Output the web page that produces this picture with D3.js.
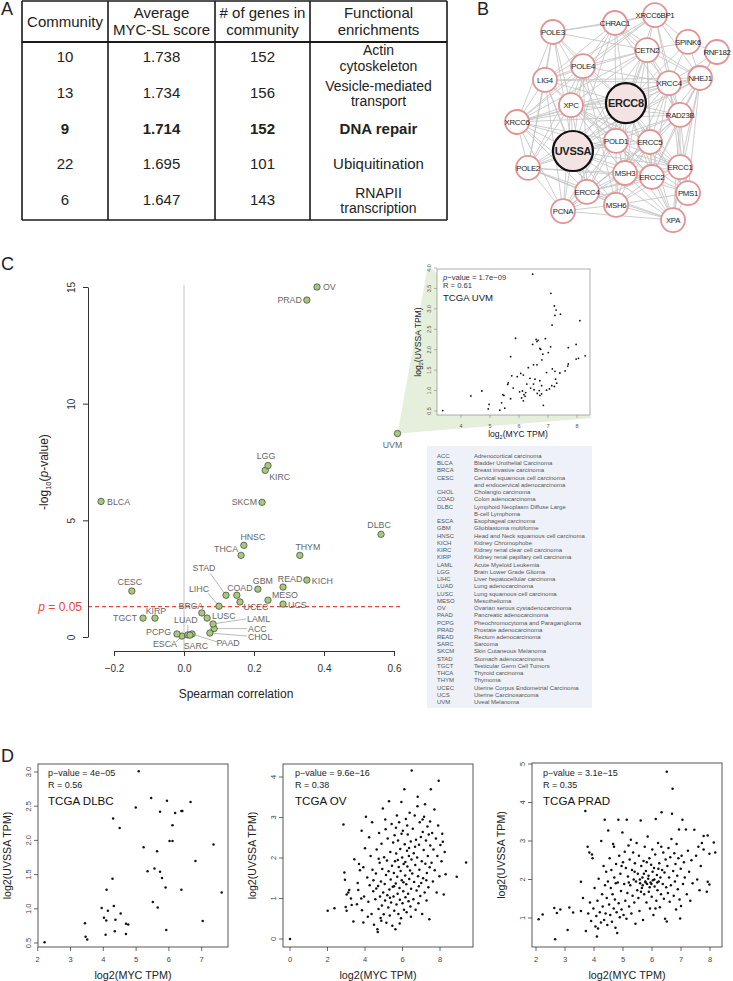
<!DOCTYPE html>
<html><head><meta charset="utf-8">
<script src="https://cdn.jsdelivr.net/npm/d3@7"></script>
<style>
body{margin:0;background:#fff}
svg{display:block;font-family:"Liberation Sans",Arial,Helvetica,sans-serif}
</style></head>
<body><svg id="fig" width="733" height="981"></svg>
<script>
// ---------------- DATA ----------------
// Panel A
const tableHeader = [["Community"],["Average","MYC-SL score"],["# of genes in","community"],["Functional","enrichments"]];
const communities = ["10","13","9","22","6"];
const avgScore = [1.738,1.734,1.714,1.695,1.647];
const geneCount = [152,156,152,101,143];
const enrichments = [["Actin","cytoskeleton"],["Vesicle-mediated","transport"],["DNA repair"],["Ubiquitination"],["RNAPII","transcription"]];
const highlightCommunity = "9";

// Panel B
const networkNodes = ["POLE3","CHRAC1","XRCC6BP1","SPINK6","RNF182","CETN2","POLE4","LIG4","XRCC4","NHEJ1","ERCC8","XPC","RAD23B","XRCC6","UVSSA","POLD1","ERCC5","ERCC1","POLE2","MSH3","ERCC2","PMS1","ERCC4","MSH6","PCNA","XPA"];
const hubNodes = ["ERCC8","UVSSA"];
const networkEdges = [
 "ERCC8:POLE3,CHRAC1,XRCC6BP1,CETN2,POLE4,LIG4,XRCC4,NHEJ1,XPC,RAD23B,XRCC6,UVSSA,POLD1,ERCC5,ERCC1,POLE2,MSH3,ERCC2,PMS1,ERCC4,MSH6,PCNA,XPA,SPINK6",
 "UVSSA:POLE3,CHRAC1,POLE4,LIG4,XRCC4,XPC,RAD23B,XRCC6,POLD1,ERCC5,ERCC1,POLE2,MSH3,ERCC2,ERCC4,MSH6,PCNA,XPA,CETN2,NHEJ1",
 "POLE3:CHRAC1,POLE4,LIG4,XRCC6,XPC,POLE2,XRCC6BP1,CETN2,POLD1",
 "CHRAC1:XRCC6BP1,CETN2,POLE4,XRCC4,LIG4,XPC,POLD1,NHEJ1,RAD23B",
 "XRCC6BP1:SPINK6,CETN2,XRCC4,NHEJ1,RAD23B,XRCC6,LIG4,POLE4",
 "SPINK6:RNF182,NHEJ1,XRCC4,CETN2",
 "RNF182:NHEJ1,XRCC4,RAD23B",
 "CETN2:XRCC4,NHEJ1,POLE4,XPC,RAD23B,POLD1,ERCC5,ERCC2,LIG4,XRCC6,MSH3",
 "POLE4:LIG4,XPC,XRCC6,POLD1,POLE2,ERCC4,XRCC4,MSH6",
 "LIG4:XPC,XRCC6,POLE2,XRCC4,POLD1,PCNA,ERCC4,NHEJ1",
 "XRCC4:NHEJ1,RAD23B,POLD1,ERCC5,ERCC1,XPC,ERCC2,XRCC6,MSH3,PMS1",
 "NHEJ1:RAD23B,ERCC1,ERCC5,XRCC6,POLE2,PMS1,ERCC2,XPA",
 "XPC:XRCC6,RAD23B,POLD1,ERCC5,POLE2,ERCC4,MSH3,ERCC1,PCNA,ERCC2",
 "RAD23B:ERCC5,ERCC1,ERCC2,POLD1,MSH3,PMS1,XPA,ERCC4,XRCC6",
 "XRCC6:POLE2,POLD1,ERCC4,PCNA,MSH6,ERCC1",
 "POLD1:ERCC5,MSH3,ERCC2,ERCC4,MSH6,PCNA,ERCC1,POLE2,XPA,PMS1",
 "ERCC5:ERCC1,ERCC2,MSH3,PMS1,XPA,ERCC4,MSH6,PCNA",
 "ERCC1:ERCC2,PMS1,XPA,MSH3,ERCC4,MSH6",
 "POLE2:ERCC4,PCNA,MSH6,MSH3,ERCC2,XPA",
 "MSH3:ERCC2,ERCC4,MSH6,PMS1,XPA,PCNA",
 "ERCC2:PMS1,XPA,MSH6,ERCC4,PCNA",
 "PMS1:XPA,MSH6",
 "ERCC4:MSH6,PCNA,XPA",
 "MSH6:PCNA,XPA",
 "PCNA:XPA"
];

// Panel C volcano
const cancers = ["ACC","BLCA","BRCA","CESC","CHOL","COAD","DLBC","ESCA","GBM","HNSC","KICH","KIRC","KIRP","LAML","LGG","LIHC","LUAD","LUSC","MESO","OV","PAAD","PCPG","PRAD","READ","SARC","SKCM","STAD","TGCT","THCA","THYM","UCEC","UCS","UVM"];
const spearmanRho = [0.086,-0.237,0.051,-0.149,0.074,0.151,0.563,-0.006,0.211,0.171,0.351,0.232,-0.083,0.083,0.240,0.100,0.011,0.066,0.240,0.380,0.023,-0.020,0.351,0.283,0.017,0.223,0.120,-0.117,0.163,0.331,0.160,0.283,0.610];
const negLog10P = [0.36,5.81,1.03,1.97,0.17,1.79,4.40,0.04,2.05,3.93,2.44,7.14,0.81,0.56,7.35,1.32,0.09,0.81,1.58,15.0,0.13,0.13,14.44,2.14,0.08,5.77,1.79,0.81,3.50,3.50,1.50,1.41,8.72];
const cancerNames = ["Adrenocortical carcinoma","Bladder Urothelial Carcinoma","Breast invasive carcinoma","Cervical squamous cell carcinoma\nand endocervical adenocarcinoma","Cholangio carcinoma","Colon adenocarcinoma","Lymphoid Neoplasm Diffuse Large\nB-cell Lymphoma","Esophageal carcinoma","Glioblastoma multiforme","Head and Neck squamous cell carcinoma","Kidney Chromophobe","Kidney renal clear cell carcinoma","Kidney renal papillary cell carcinoma","Acute Myeloid Leukemia","Brain Lower Grade Glioma","Liver hepatocellular carcinoma","Lung adenocarcinoma","Lung squamous cell carcinoma","Mesothelioma","Ovarian serous cystadenocarcinoma","Pancreatic adenocarcinoma","Pheochromocytoma and Paraganglioma","Prostate adenocarcinoma","Rectum adenocarcinoma","Sarcoma","Skin Cutaneous Melanoma","Stomach adenocarcinoma","Testicular Germ Cell Tumors","Thyroid carcinoma","Thymoma","Uterine Corpus Endometrial Carcinoma","Uterine Carcinosarcoma","Uveal Melanoma"];
const pThreshold = 0.05;
const volcanoXTicks = [-0.2,0,0.2,0.4,0.6];
const volcanoYTicks = [0,5,10,15];

// Inset: TCGA UVM
const uvmStats = ["p-value = 1.7e\u221209","R = 0.61","TCGA UVM"];
const uvmPoints = [[3.37,0.51],[4.34,0.87],[4.72,0.99],[4.97,0.66],[4.94,0.55],[5.34,0.52],[5.40,0.70],[5.44,0.90],[5.48,0.88],[5.51,0.57],[5.63,1.19],[5.61,1.15],[5.71,0.80],[5.71,1.83],[5.75,1.36],[5.80,1.06],[5.88,2.28],[5.94,1.34],[6.02,0.97],[6.06,1.42],[6.09,0.82],[6.12,0.99],[6.15,0.75],[6.15,1.38],[6.17,0.90],[6.23,0.95],[6.21,0.86],[6.27,1.16],[6.32,1.56],[6.38,1.30],[6.40,1.06],[6.47,3.85],[6.47,2.13],[6.50,1.63],[6.50,1.16],[6.52,1.02],[6.55,1.28],[6.59,2.25],[6.62,2.20],[6.62,1.63],[6.63,0.93],[6.66,2.23],[6.72,2.03],[6.72,1.24],[6.70,1.00],[6.72,0.88],[6.75,2.01],[6.78,1.12],[6.78,0.92],[6.79,1.75],[6.82,1.89],[6.84,0.64],[6.91,2.27],[6.95,1.44],[6.95,1.01],[7.01,1.93],[7.05,1.04],[7.09,2.07],[7.10,3.38],[7.13,1.12],[7.14,2.60],[7.15,1.53],[7.22,3.07],[7.22,1.10],[7.24,2.84],[7.24,1.47],[7.26,1.28],[7.28,2.97],[7.30,1.18],[7.41,1.43],[7.43,2.87],[7.59,1.48],[7.68,1.60],[7.70,1.65],[7.70,2.05],[7.97,2.13],[7.97,1.77],[8.05,1.79],[8.10,2.71],[8.28,1.85]];

// Panel D
const dlbcStats = ["p\u2212value = 4e\u221205","R = 0.56","TCGA DLBC"];
const dlbcPoints = [[2.21,0.51],[3.44,0.79],[3.46,0.59],[3.51,0.55],[3.95,1.01],[4.02,0.87],[4.09,0.83],[4.07,0.62],[4.14,0.97],[4.10,1.28],[4.28,1.44],[4.30,2.32],[4.32,1.04],[4.35,0.67],[4.37,0.84],[4.50,2.18],[4.53,0.93],[4.69,0.78],[4.76,0.77],[4.69,0.63],[4.99,2.48],[5.08,3.01],[5.23,1.90],[5.35,1.55],[5.46,2.62],[5.51,1.10],[5.56,1.59],[5.64,1.84],[5.66,1.02],[5.73,2.42],[5.73,1.54],[5.79,1.45],[5.90,1.31],[5.94,2.58],[5.92,0.69],[6.02,1.99],[6.11,1.99],[6.11,2.22],[6.19,2.40],[6.38,2.43],[6.41,2.43],[6.38,1.28],[6.66,2.56],[6.81,1.70],[7.03,0.82],[7.36,1.94],[7.61,1.24]];
const ovStats = ["p\u2212value = 9.6e\u221216","R = 0.38","TCGA OV"];
const ovPoints = [[0.0,0.0],[2.01,0.70],[2.37,0.76],[2.85,2.83],[2.90,1.64],[2.93,1.46],[3.02,1.10],[3.11,1.15],[3.16,1.21],[2.97,0.79],[3.02,0.70],[3.25,1.00],[3.29,0.84],[3.43,1.97],[3.38,0.43],
[3.57,0.86],[3.61,1.38],[3.64,1.21],[3.68,1.85],[3.73,1.70],[3.82,2.67],[3.91,1.77],[3.80,1.00],[3.84,0.71],[3.91,0.41],[4.00,2.24],[4.05,3.02],[3.95,1.05],[4.12,1.52],[4.18,0.92],[4.25,1.33],[4.30,2.05],[4.35,0.62],[4.40,1.71],[4.44,1.18],[4.22,2.51],[4.48,0.35],[4.15,0.55],[4.38,2.88],[4.45,1.45],
[4.55,0.98],[4.58,1.62],[4.62,2.21],[4.66,0.24],[4.68,0.17],[4.70,1.31],[4.72,0.74],[4.75,2.62],[4.78,1.88],[4.80,1.05],[4.83,0.52],[4.85,1.42],[4.88,2.35],[4.90,0.83],[4.92,1.73],[4.95,3.22],[4.97,1.15],[5.00,0.61],[5.02,2.02],[5.05,1.36],[5.07,0.95],[5.10,2.71],[5.12,1.58],[5.14,0.40],[5.17,1.94],[5.19,1.08],[5.21,2.48],[5.24,0.78],[5.26,1.67],[5.28,3.40],[5.30,1.22],[5.32,0.58],[5.35,2.15],[5.37,1.47],[5.39,0.90],[5.42,2.84],[5.44,1.81],[5.46,0.33],[5.48,1.29],[5.50,2.38],[4.60,1.25],[4.87,0.45],[5.08,2.95],[5.33,1.02],[4.73,1.98],
[5.52,1.05],[5.54,1.63],[5.56,0.70],[5.58,2.56],[5.60,1.92],[5.62,0.24],[5.64,1.37],[5.66,2.11],[5.68,0.85],[5.70,3.05],[5.72,1.54],[5.74,1.12],[5.76,2.43],[5.78,0.62],[5.80,1.78],[5.82,2.88],[5.84,1.26],[5.86,0.97],[5.88,2.22],[5.90,1.68],[5.92,0.51],[5.94,3.38],[5.96,1.45],[5.98,2.01],[6.00,0.88],[6.02,2.67],[6.04,1.18],[6.06,1.85],[6.08,0.72],[6.10,3.70],[6.12,2.34],[6.14,1.57],[6.16,1.03],[6.18,2.96],[6.20,1.35],[6.22,0.66],[6.24,2.18],[6.26,1.79],[6.28,2.58],[6.30,1.12],[6.32,0.93],[6.34,2.05],[6.36,1.48],[6.38,3.12],[6.40,1.69],[6.42,0.80],[6.44,2.41],[6.46,1.24],[6.48,1.96],[6.49,4.16],[5.65,2.75],[5.85,0.38],[6.05,1.40],[6.25,2.80],[6.45,0.55],[5.75,1.95],[5.95,2.60],[6.15,1.90],[6.35,2.25],[5.55,1.30],
[6.52,1.62],[6.55,2.72],[6.58,0.98],[6.60,2.12],[6.62,1.41],[6.65,3.05],[6.68,1.83],[6.70,0.72],[6.72,2.45],[6.75,1.20],[6.78,2.01],[6.80,3.28],[6.81,3.51],[6.83,1.55],[6.85,0.88],[6.88,2.33],[6.90,1.71],[6.92,2.88],[6.95,1.06],[6.98,2.52],[7.00,1.38],[7.03,1.92],[7.05,0.62],[7.08,2.64],[7.10,1.50],[7.13,2.20],[7.15,3.02],[7.18,1.15],[7.20,3.33],[7.22,1.86],[7.25,2.43],[7.28,0.95],[7.30,1.63],[7.33,2.78],[7.35,2.05],[7.38,1.28],[7.40,2.58],[7.43,0.49],[7.45,1.77],[7.48,2.31],[6.67,2.28],[6.87,1.30],[7.07,2.95],[7.27,1.45],[7.47,2.90],
[7.51,3.70],[7.55,1.88],[7.58,2.62],[7.62,1.42],[7.65,2.21],[7.70,3.20],[7.72,1.70],[7.78,2.48],[7.82,1.15],[7.86,2.05],[7.90,2.80],[7.93,3.91],[7.97,1.55],[8.02,2.32],[8.08,1.92],[8.12,2.60],[8.20,1.10],[8.25,2.15],[8.30,1.60],[8.89,1.54],[9.39,1.89],[8.15,2.40]];
const pradStats = ["p\u2212value = 3.1e\u221215","R = 0.35","TCGA PRAD"];
const pradPoints = [[2.09,0.97],[2.23,1.09],[2.63,1.26],[2.72,1.13],[2.66,0.45],[2.84,1.22],[3.09,0.69],[3.15,1.27],[3.28,1.14],[3.55,1.18],[3.55,1.94],[3.70,3.78],[3.72,0.66],[3.62,1.52],
[3.78,2.85],[3.84,2.70],[3.93,2.65],[3.95,2.55],[3.80,1.12],[3.86,1.40],[3.90,0.92],[3.98,1.25],[4.02,1.78],[4.05,0.78],[4.10,0.52],[4.14,0.73],[4.08,1.05],[4.12,1.45],[4.16,2.02],[4.20,1.15],[4.25,3.00],[4.24,0.88],[4.28,1.62],[4.30,1.30],[4.33,2.35],[4.35,0.95],[4.37,3.55],[4.38,1.85],[4.40,1.12],[4.42,2.20],[4.44,1.52],[4.46,0.82],[4.49,3.27],[4.48,1.95],
[4.52,1.35],[4.54,2.55],[4.56,1.08],[4.58,1.78],[4.60,2.25],[4.62,0.90],[4.64,1.62],[4.66,2.92],[4.68,1.25],[4.69,2.85],[4.70,2.05],[4.72,1.48],[4.74,0.75],[4.76,2.40],[4.78,1.15],[4.80,0.61],[4.82,1.92],[4.84,3.55],[4.85,1.38],[4.87,2.62],[4.89,1.02],[4.91,2.15],[4.93,1.70],[4.95,1.22],[4.98,3.22],[5.00,2.45],[5.02,1.08],[5.04,1.88],[5.06,2.72],[5.08,1.45],[5.10,2.30],[5.12,0.98],[5.13,3.55],[5.15,1.65],[5.17,2.08],[5.19,2.88],[5.21,1.30],[5.23,2.52],[5.25,1.85],[5.27,3.03],[5.29,1.12],[5.31,2.25],[5.33,1.58],[5.35,2.70],[5.37,2.00],[5.39,1.40],[5.41,2.42],[5.43,0.85],[5.45,1.95],[5.47,2.95],[5.49,1.72],[4.95,2.35],[5.20,1.92],[4.75,1.90],[5.40,2.20],
[5.51,2.15],[5.53,1.52],[5.55,2.62],[5.57,1.18],[5.59,1.90],[5.61,3.53],[5.63,2.35],[5.65,1.78],[5.67,2.05],[5.69,0.95],[5.71,2.48],[5.73,1.62],[5.75,2.85],[5.77,1.95],[5.79,2.22],[5.81,1.40],[5.83,1.88],[5.85,3.12],[5.87,2.02],[5.89,1.68],[5.91,2.55],[5.93,1.25],[5.95,1.92],[5.97,2.38],[5.99,1.55],[6.01,2.78],[6.03,1.98],[6.05,1.08],[6.07,2.30],[6.09,1.82],[6.11,2.65],[6.13,3.57],[6.15,1.45],[6.17,2.12],[6.19,1.72],[6.21,2.95],[6.23,1.95],[6.25,2.42],[6.27,1.28],[6.29,2.05],[6.31,1.62],[6.33,3.75],[6.35,2.25],[6.37,1.88],[6.39,2.70],[6.41,1.50],[6.43,2.18],[6.45,0.98],[6.47,2.52],[6.49,1.80],[5.58,2.00],[5.68,1.85],[5.78,1.92],[5.88,2.10],[5.98,1.88],[6.08,2.00],[6.18,1.92],[5.72,2.15],[5.92,1.80],[6.02,2.20],[5.62,1.68],[6.22,2.28],[5.82,2.45],[6.12,1.25],[6.32,2.85],
[6.51,4.80],[6.53,2.35],[6.55,1.65],[6.57,2.82],[6.59,2.05],[6.61,1.42],[6.63,2.58],[6.65,1.85],[6.67,3.05],[6.69,3.71],[6.71,4.36],[6.73,2.22],[6.75,1.58],[6.77,2.68],[6.79,1.95],[6.81,2.40],[6.83,1.22],[6.85,2.92],[6.87,2.10],[6.89,1.75],[6.91,2.55],[6.93,3.30],[6.95,1.48],[6.97,0.99],[6.99,2.28],[7.00,1.31],[7.02,2.62],[7.05,3.55],[7.07,1.88],[7.10,2.45],[7.13,2.05],[7.17,3.30],[7.20,1.62],[7.24,2.75],[7.28,2.20],[7.32,1.45],[7.36,2.50],[7.40,1.90],[7.46,3.29],[6.51,0.91],
[7.52,2.62],[7.56,2.00],[7.60,2.85],[7.64,1.72],[7.68,2.35],[7.72,2.95],[7.78,2.78],[7.78,3.13],[7.92,3.14],[7.98,2.67],[7.92,1.94],[7.89,1.68],[7.98,1.87],[8.13,2.96],[8.18,2.70]];

// ---------------- LAYOUT (positions / styles) ----------------
const FONT = '"Liberation Sans",Arial,Helvetica,sans-serif';
const networkLayout = {
 POLE3:[0.195,0.10],CHRAC1:[0.477,0.059],XRCC6BP1:[0.659,0.023],SPINK6:[0.809,0.145],RNF182:[0.941,0.191],
 CETN2:[0.623,0.182],POLE4:[0.332,0.255],LIG4:[0.159,0.318],XRCC4:[0.723,0.332],NHEJ1:[0.864,0.309],
 ERCC8:[0.527,0.423],XPC:[0.277,0.432],RAD23B:[0.773,0.477],XRCC6:[0.032,0.509],UVSSA:[0.286,0.641],
 POLD1:[0.482,0.595],ERCC5:[0.636,0.600],ERCC1:[0.773,0.714],POLE2:[0.082,0.718],MSH3:[0.523,0.741],
 ERCC2:[0.645,0.759],PMS1:[0.809,0.832],ERCC4:[0.35,0.827],MSH6:[0.482,0.886],PCNA:[0.241,0.914],XPA:[0.741,0.955]
};
// label placement: [dx, dy(center), anchor, leaderDx, leaderDy]
const volcanoLabelLayout = {
 OV:[6,0,"start"],PRAD:[-5,0,"end"],UVM:[-5,11,"middle"],LGG:[-2,-10,"middle"],KIRC:[4,6.5,"start"],
 BLCA:[6,0,"start"],SKCM:[-5,0,"end"],DLBC:[-2,-9,"middle"],HNSC:[9,-8,"middle"],THCA:[-3,-6,"end"],
 THYM:[8,-8,"middle"],KICH:[5,1,"start"],READ:[7,-8,"middle"],GBM:[5,-8,"middle"],CESC:[-2,-9,"middle"],
 COAD:[3,-7,"middle"],STAD:[-22,-27,"middle",-16,-22],MESO:[4,-5.5,"start"],UCEC:[16,5,"middle"],UCS:[5,1,"start"],
 LIHC:[-20,-17,"middle",-11,-13],BRCA:[-11,-7,"middle"],LUSC:[5,-2,"start"],KIRP:[1,-7,"middle"],TGCT:[-6,0,"end"],
 LAML:[34,-5,"start",33,-5],ACC:[34,0,"start",33,0],CHOL:[38,4,"start",37,3],LUAD:[-2,-15,"middle",0,-10],
 PCPG:[-6,-2,"end"],ESCA:[-17,8,"middle",-6,6],SARC:[6,11,"middle"],PAAD:[36,9,"middle",25,8]
};

const svg = d3.select("#fig").attr("font-family", FONT);

function txt(g, x, y, s, o = {}) {
  const t = g.append("text").attr("x", x).attr("y", y).text(s)
    .attr("font-size", o.size || 10).attr("fill", o.fill || "#222")
    .attr("text-anchor", o.anchor || "start");
  if (o.weight) t.attr("font-weight", o.weight);
  if (o.style) t.attr("font-style", o.style);
  if (o.ls) t.attr("letter-spacing", o.ls);
  if (o.rotate) t.attr("transform", `rotate(${o.rotate},${x},${y})`);
  return t;
}

// Panel letters
[["A",1,15],["B",477,15],["C",1,270],["D",1,762]].forEach(([l,x,y]) => txt(svg,x,y,l,{size:18,fill:"#222"}));

// ---------------- Panel A: table ----------------
(function(){
  const g = svg.append("g");
  const colEdges = [22,108,215,310,447];
  const cx = i => (colEdges[i]+colEdges[i+1])/2;
  const top = 1, headBottom = 42, bottom = 220;
  const row = d3.scaleBand().domain(communities).range([headBottom, bottom]);
  const line = (x1,y1,x2,y2,w) => g.append("line").attr("x1",x1).attr("y1",y1).attr("x2",x2).attr("y2",y2).attr("stroke","#1a1a1a").attr("stroke-width",w);
  line(colEdges[0],top,colEdges[4],top,1.6);
  line(colEdges[0],headBottom,colEdges[4],headBottom,2.2);
  line(colEdges[0],bottom,colEdges[4],bottom,1.6);
  colEdges.forEach(x => line(x,top,x,bottom,1.6));
  tableHeader.forEach((h,i) => {
    if (h.length === 1) txt(g,cx(i),27,h[0],{size:15,anchor:"middle"});
    else { txt(g,cx(i),17.5,h[0],{size:15,anchor:"middle"}); txt(g,cx(i),35,h[1],{size:15,anchor:"middle"}); }
  });
  communities.forEach((c,r) => {
    const yc = row(c) + row.bandwidth()/2;
    const bold = c === highlightCommunity ? "bold" : null;
    const o = {size:15,anchor:"middle",weight:bold};
    txt(g,cx(0),yc+2.5,c,o);
    txt(g,cx(1),yc+2.5,avgScore[r].toFixed(3),o);
    txt(g,cx(2),yc+2.5,String(geneCount[r]),o);
    const e = enrichments[r];
    const o2 = {size:14,anchor:"middle",weight:bold};
    if (e.length === 1) txt(g,cx(3),yc+2.5,e[0],o);
    else { txt(g,cx(3),yc-4.5,e[0],o2); txt(g,cx(3),yc+11,e[1],o2); }
  });
})();

// ---------------- Panel B: network ----------------
(function(){
  const g = svg.append("g");
  const sx = d3.scaleLinear().domain([0,1]).range([510,730]);
  const sy = d3.scaleLinear().domain([0,1]).range([10,230]);
  const pos = n => [sx(networkLayout[n][0]), sy(networkLayout[n][1])];
  const edges = [];
  networkEdges.forEach(s => { const [a,bs] = s.split(":"); bs.split(",").forEach(b => edges.push([a,b])); });
  g.append("g").selectAll("line").data(edges).join("line")
    .attr("x1",d=>pos(d[0])[0]).attr("y1",d=>pos(d[0])[1])
    .attr("x2",d=>pos(d[1])[0]).attr("y2",d=>pos(d[1])[1])
    .attr("stroke","#c4c4c4").attr("stroke-width",1).attr("stroke-opacity",0.85);
  const ng = g.append("g").selectAll("g").data(networkNodes).join("g")
    .attr("transform",d=>`translate(${pos(d)[0]},${pos(d)[1]})`);
  ng.append("circle").attr("r",d=>hubNodes.includes(d)?20:12)
    .attr("fill",d=>hubNodes.includes(d)?"#f3e3e3":"#fff")
    .attr("stroke",d=>hubNodes.includes(d)?"#111":"#e39393")
    .attr("stroke-width",d=>hubNodes.includes(d)?2.2:1.8);
  ng.append("text").text(d=>d).attr("text-anchor","middle").attr("dy","0.35em")
    .attr("font-size",d=>hubNodes.includes(d)?11:7.8)
    .attr("font-weight",d=>hubNodes.includes(d)?"bold":null)
    .attr("letter-spacing",-0.3).attr("fill","#222");
})();

// ---------------- Panel C: volcano ----------------
(function(){
  const g = svg.append("g");
  const x = d3.scaleLinear().domain([-0.2,0.6]).range([114,394]);
  const y = d3.scaleLinear().domain([0,15]).range([637,287]);

  // wedge towards inset
  const ix0 = 437, iy0 = 269, ix1 = 590, iy1 = 415;
  const uvmIdx = cancers.indexOf("UVM");
  const ux = x(spearmanRho[uvmIdx]), uy = y(negLog10P[uvmIdx]);
  g.append("path").attr("d",`M${ux},${uy}L${ix0-9},${iy0-4}L${ix1+2},${iy1+3}Z`).attr("fill","#e5efdb");

  // zero line
  g.append("line").attr("x1",x(0)).attr("x2",x(0)).attr("y1",285).attr("y2",651).attr("stroke","#c2c2c2").attr("stroke-width",1);
  // threshold
  const py = y(-Math.log10(pThreshold));
  g.append("line").attr("x1",88).attr("x2",400).attr("y1",py).attr("y2",py)
    .attr("stroke","#e8453c").attr("stroke-width",1.2).attr("stroke-dasharray","4,3");
  const pl = txt(g,82,py+4.3,"",{size:12,anchor:"end",fill:"#e8453c"});
  pl.append("tspan").attr("font-style","italic").text("p");
  pl.append("tspan").text(" = 0.05");

  // axes
  const xa = g.append("g").attr("transform","translate(0,651)")
    .call(d3.axisBottom(x).tickValues(volcanoXTicks).tickFormat(d3.format(".1f")).tickSize(5).tickSizeOuter(0).tickPadding(9));
  xa.selectAll("text").attr("font-size",10).attr("fill","#333").attr("font-family",FONT);
  xa.selectAll("line,path").attr("stroke","#333");
  const ya = g.append("g").attr("transform","translate(88,0)")
    .call(d3.axisLeft(y).tickValues(volcanoYTicks).tickSize(5).tickSizeOuter(0));
  ya.selectAll("text").attr("font-size",10).attr("fill","#333").attr("font-family",FONT)
    .attr("transform","rotate(-90)").attr("x",0).attr("y",-13).attr("dy",0).attr("text-anchor","middle");
  ya.selectAll("line,path").attr("stroke","#333");

  txt(g,236,698,"Spearman correlation",{size:12,anchor:"middle"});
  const yl = txt(g,48,472,"",{size:12,anchor:"middle",rotate:-90});
  yl.append("tspan").text("-log");
  yl.append("tspan").attr("font-size",7.5).attr("dy",3).text("10");
  yl.append("tspan").attr("dy",-3).text("(");
  yl.append("tspan").attr("font-style","italic").text("p");
  yl.append("tspan").text("-value)");

  // leaders
  cancers.forEach((c,i) => {
    const L = volcanoLabelLayout[c];
    if (L && L.length > 3) {
      g.append("line").attr("x1",x(spearmanRho[i])).attr("y1",y(negLog10P[i]))
        .attr("x2",x(spearmanRho[i])+L[3]).attr("y2",y(negLog10P[i])+L[4])
        .attr("stroke","#8a8a8a").attr("stroke-width",0.6);
    }
  });
  // points
  g.append("g").selectAll("circle").data(cancers).join("circle")
    .attr("cx",(d,i)=>x(spearmanRho[i])).attr("cy",(d,i)=>y(negLog10P[i])).attr("r",3.2)
    .attr("fill","#a6ca7c").attr("stroke","#3b3b3b").attr("stroke-width",0.7);
  // labels
  cancers.forEach((c,i) => {
    const L = volcanoLabelLayout[c];
    txt(g,x(spearmanRho[i])+L[0],y(negLog10P[i])+L[1]+3.1,c,{size:8.8,anchor:L[2],fill:"#666"});
  });

  // ---- inset UVM scatter ----
  const ig = svg.append("g");
  const ixs = d3.scaleLinear().domain([4,8]).range([461,577]);
  const iys = d3.scaleLinear().domain([0.5,4]).range([411,268]);
  ig.append("rect").attr("x",ix0).attr("y",iy0).attr("width",ix1-ix0).attr("height",iy1-iy0)
    .attr("fill","#fff").attr("stroke","#9a9a9a").attr("stroke-width",0.8);
  [4,5,6,7,8].forEach(v => {
    ig.append("line").attr("x1",ixs(v)).attr("x2",ixs(v)).attr("y1",iy1).attr("y2",iy1+3).attr("stroke","#888").attr("stroke-width",0.6);
    txt(ig,ixs(v),iy1+13,String(v),{size:5.5,anchor:"middle",fill:"#555"});
  });
  d3.range(0.5,4.01,0.5).forEach(v => {
    ig.append("line").attr("x1",ix0-3).attr("x2",ix0).attr("y1",iys(v)).attr("y2",iys(v)).attr("stroke","#888").attr("stroke-width",0.6);
    txt(ig,ix0-6,iys(v),v.toFixed(1),{size:5.5,anchor:"middle",fill:"#555",rotate:-90});
  });
  ig.append("g").selectAll("circle").data(uvmPoints).join("circle")
    .attr("cx",d=>ixs(d[0])).attr("cy",d=>iys(d[1])).attr("r",0.9).attr("fill","#111");
  const t1 = txt(ig,443,279.5,"",{size:7.6,fill:"#333"});
  t1.append("tspan").attr("font-style","italic").text("p");
  t1.append("tspan").text(uvmStats[0].slice(1).replace("-","\u2212"));
  txt(ig,443,287.5,uvmStats[1],{size:7.6,fill:"#333"});
  txt(ig,443,300.5,uvmStats[2],{size:9.6,fill:"#222"});
  const ixl = txt(ig,518,436.5,"",{size:8.6,anchor:"middle",fill:"#222"});
  ixl.append("tspan").text("log"); ixl.append("tspan").attr("font-size",5.5).attr("dy",2).text("2");
  ixl.append("tspan").attr("dy",-2).text("(MYC TPM)");
  const iyl = txt(ig,421,342,"",{size:8.6,anchor:"middle",fill:"#222",rotate:-90});
  iyl.append("tspan").text("log"); iyl.append("tspan").attr("font-size",5.5).attr("dy",2).text("2");
  iyl.append("tspan").attr("dy",-2).text("(UVSSA TPM)");

  // ---- legend ----
  const lg = svg.append("g");
  lg.append("rect").attr("x",427).attr("y",446).attr("width",165).attr("height",262).attr("fill","#eef2f8");
  const rowH = 7.24;
  let r = 0;
  cancers.forEach((c,i) => {
    const lines = cancerNames[i].split("\n");
    txt(lg,437,456+r*rowH+2,c,{size:6,fill:"#555"});
    lines.forEach((ln,k) => txt(lg,474,456+(r+k)*rowH+2,ln,{size:6,fill:"#555"}));
    r += lines.length;
  });
})();

// ---------------- Panel D: scatter plots ----------------
function scatterPanel(cfg) {
  const g = svg.append("g");
  const [L,T,R,B] = cfg.box;
  const xs = d3.scaleLinear().domain(cfg.xd).range(cfg.xr);
  const ys = d3.scaleLinear().domain(cfg.yd).range(cfg.yr);
  g.append("rect").attr("x",L).attr("y",T).attr("width",R-L).attr("height",B-T)
    .attr("fill","#fff").attr("stroke","#444").attr("stroke-width",0.9);
  cfg.xticks.forEach(v => {
    g.append("line").attr("x1",xs(v)).attr("x2",xs(v)).attr("y1",B).attr("y2",B+4).attr("stroke","#444").attr("stroke-width",0.8);
    txt(g,xs(v),B+14.5,cfg.xfmt(v),{size:7.5,anchor:"middle",fill:"#444"});
  });
  cfg.yticks.forEach(v => {
    g.append("line").attr("x1",L-4).attr("x2",L).attr("y1",ys(v)).attr("y2",ys(v)).attr("stroke","#444").attr("stroke-width",0.8);
    txt(g,L-7,ys(v),cfg.yfmt(v),{size:7.5,anchor:"middle",fill:"#444",rotate:-90});
  });
  g.append("g").selectAll("circle").data(cfg.points).join("circle")
    .attr("cx",d=>xs(d[0])).attr("cy",d=>ys(d[1])).attr("r",1.25).attr("fill","#111");
  txt(g,L+cfg.tx,776,cfg.stats[0],{size:9,fill:"#222"});
  txt(g,L+cfg.tx,788,cfg.stats[1],{size:9,fill:"#222"});
  txt(g,L+cfg.tx,804.5,cfg.stats[2],{size:11.6,fill:"#111"});
  txt(g,(L+R)/2,979,"log2(MYC TPM)",{size:10.8,anchor:"middle",fill:"#222"});
  txt(g,L-27,(T+B)/2,"log2(UVSSA TPM)",{size:10.6,anchor:"middle",fill:"#222",rotate:-90});
}
const f1 = d3.format(".1f"), f0 = d3.format("d");
scatterPanel({box:[38,764,228,947],xd:[2,7],xr:[37.7,201.7],yd:[0.5,3],yr:[943,772],
  xticks:[2,3,4,5,6,7],yticks:[0.5,1,1.5,2,2.5,3],xfmt:f0,yfmt:f1,points:dlbcPoints,stats:dlbcStats,tx:10});
scatterPanel({box:[283,764,473,947],xd:[0,8],xr:[290,440],yd:[0,4],yr:[939,777],
  xticks:[0,2,4,6,8],yticks:[0,1,2,3,4],xfmt:f0,yfmt:f0,points:ovPoints,stats:ovStats,tx:12});
scatterPanel({box:[532,763,722,947],xd:[2,8],xr:[536,710],yd:[1,5],yr:[918,764],
  xticks:[2,3,4,5,6,7,8],yticks:[1,2,3,4,5],xfmt:f0,yfmt:f0,points:pradPoints,stats:pradStats,tx:11});
</script>
</body></html>
